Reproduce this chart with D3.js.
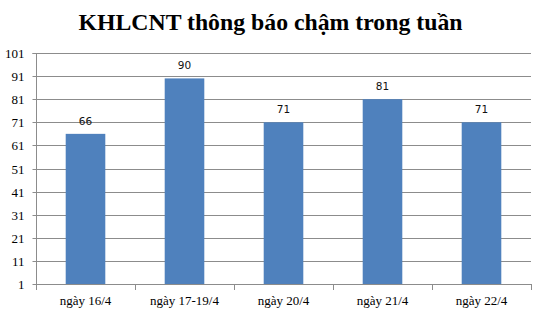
<!DOCTYPE html>
<html><head><meta charset="utf-8">
<script src="https://cdn.jsdelivr.net/npm/d3@7"></script>
<style>html,body{margin:0;padding:0;background:#fff;}</style>
</head><body>
<svg id="c" width="537" height="312"></svg>
<script>
const title = "KHLCNT thông báo chậm trong tuần";
const categories = ["ngày 16/4", "ngày 17-19/4", "ngày 20/4", "ngày 21/4", "ngày 22/4"];
const values = [66, 90, 71, 81, 71];
const yTicks = [1, 11, 21, 31, 41, 51, 61, 71, 81, 91, 101];

const svg = d3.select("#c");
const L = 36, R = 531, T = 53, B = 284;
const x = d3.scaleBand().domain(categories).range([L, R]).paddingInner(0.6).paddingOuter(0.3);
const y = d3.scaleLinear().domain([1, 101]).range([B, T]);
const gridCol = "#8c8c8c";

svg.append("text").attr("x", 270.5).attr("y", 29.5).attr("text-anchor", "middle")
  .attr("font-family", "Liberation Serif, Times New Roman, serif").attr("font-weight", "bold")
  .attr("font-size", 22.5).attr("textLength", 384).attr("lengthAdjust", "spacingAndGlyphs")
  .attr("fill", "#000").text(title);

// gridlines
svg.append("g").selectAll("line").data(yTicks.slice(1)).join("line")
  .attr("x1", L).attr("x2", R).attr("y1", d => Math.round(y(d)) + 0.5).attr("y2", d => Math.round(y(d)) + 0.5)
  .attr("stroke", gridCol).attr("stroke-width", 1);

// y axis
const ya = svg.append("g").attr("transform", `translate(${L + 0.5},0)`)
  .call(d3.axisLeft(y).tickValues(yTicks).tickSize(4).tickPadding(8).tickFormat(d3.format("d")));
ya.select(".domain").attr("stroke", gridCol).attr("d", `M-4,${Math.round(T)+0.5}H0V${Math.round(B)+0.5}`);
ya.selectAll(".tick line").attr("stroke", gridCol);
ya.selectAll(".tick").attr("transform", d => `translate(0,${Math.round(y(d)) + 0.5})`);
ya.selectAll("text").attr("font-family", "Liberation Serif, Times New Roman, serif").attr("font-size", 13).attr("fill", "#000");

// bars
svg.append("g").selectAll("rect").data(values).join("rect")
  .attr("x", (d, i) => x(categories[i])).attr("width", x.bandwidth())
  .attr("y", d => y(d)).attr("height", d => y(1) - y(d)).attr("fill", "#4f81bd");

// value labels
svg.append("g").selectAll("text").data(values).join("text")
  .attr("x", (d, i) => x(categories[i]) + x.bandwidth() / 2).attr("y", d => y(d) - 9)
  .attr("text-anchor", "middle").attr("font-family", "DejaVu Sans, Verdana, sans-serif")
  .attr("font-size", 10.5).attr("fill", "#111").text(d => d);

// x axis
const gap = (x.step() - x.bandwidth()) / 2;
const bounds = categories.map(c => x(c) - gap).concat([x(categories[categories.length - 1]) + x.bandwidth() + gap]);
const xa = svg.append("g");
xa.append("line").attr("x1", L).attr("x2", R).attr("y1", Math.round(B) + 0.5).attr("y2", Math.round(B) + 0.5).attr("stroke", gridCol);
xa.selectAll(".tk").data(bounds).join("line").attr("class", "tk")
  .attr("x1", d => Math.round(d) + 0.5).attr("x2", d => Math.round(d) + 0.5)
  .attr("y1", Math.round(B)).attr("y2", Math.round(B) + 6).attr("stroke", gridCol);
xa.selectAll("text").data(categories).join("text")
  .attr("x", d => x(d) + x.bandwidth() / 2).attr("y", 304.5).attr("text-anchor", "middle")
  .attr("font-family", "Liberation Serif, Times New Roman, serif").attr("font-size", 13).attr("fill", "#000")
  .text(d => d);
</script>
</body></html>
